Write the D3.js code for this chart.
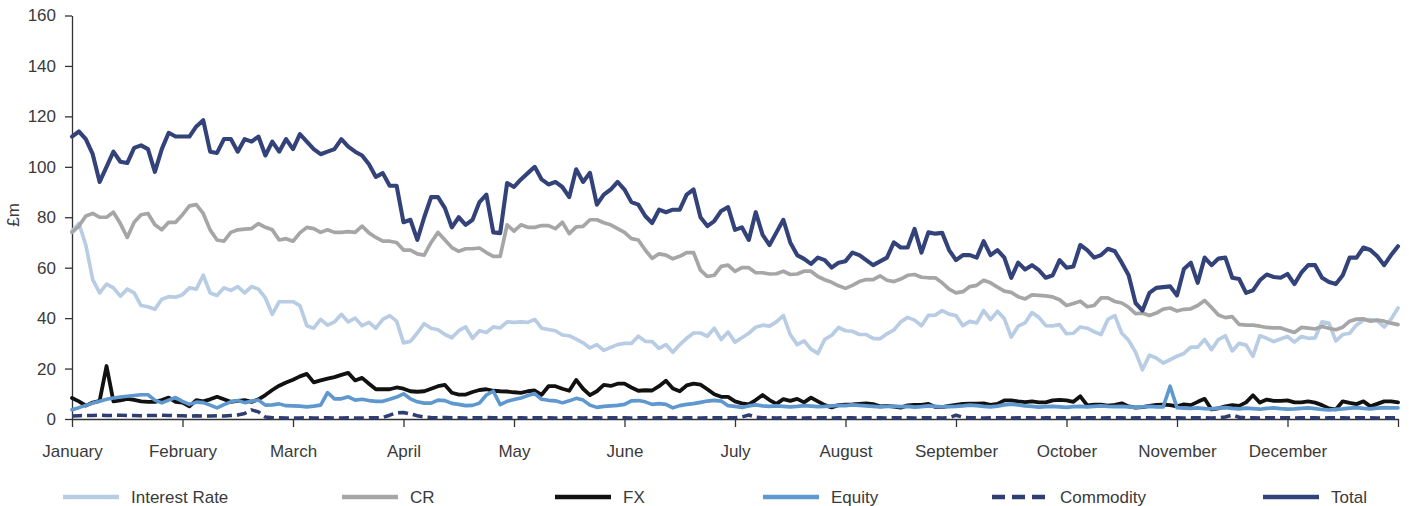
<!DOCTYPE html>
<html><head><meta charset="utf-8">
<script src="https://cdn.jsdelivr.net/npm/d3@7"></script>
<style>
html,body{margin:0;padding:0;background:#fff;}
svg{display:block;font-family:"Liberation Sans",Arial,Helvetica,sans-serif;}
</style></head><body>
<svg id="chart" width="1409" height="506"></svg>
<script>
// ---- data (16 readings per month, Jan..Dec, plus year-end) ----
const months = ["January","February","March","April","May","June","July","August","September","October","November","December"];
const pointsPerMonth = 16;
const yTicks = [0,20,40,60,80,100,120,140,160];
const yLabel = "£m";

const interestRate = [
74.5,77.5,69,55.3,50,53.5,52,48.7,51.5,50,45,44.5,43.5,47.5,48.5,48.3,
49.3,52,51.5,57,50,49,52,51,52.5,50,52.5,51.5,48,41.5,46.5,46.5,
46.5,45,37,36,39.5,37.2,38.5,41.5,38.5,40,37,38.3,36,39.5,41,38.8,
30.2,30.8,34.1,37.8,36,35.4,33.5,32.2,35,36.5,32,35,34.3,36.5,36.1,38.5,
38.3,38.5,38.3,39.5,36,35.5,35,33.3,33,31.7,30.2,28.2,29.5,27.2,28.4,29.5,
30,30,32.8,30.8,30.7,28,29.5,26.5,29.5,32,34.1,34.1,32.8,36,31.5,34.5,
30.5,32.2,34,36.4,37.2,36.8,38.5,41,33.5,29.5,31,27.7,26,31.6,33.2,36.3,
35,34.8,33.5,33.5,32,31.8,33.8,35.3,38.5,40.3,39.2,37,41.1,41.2,43,41.6,
41,37,38.7,38.1,43,39.4,42.7,39.8,32.5,36.8,38.1,42.2,40.3,37,36.9,37.4,
33.8,34,36.5,36,34.6,33.5,39.5,41,34,31.2,26.5,19.5,25.3,24.2,22.2,23.5,
24.9,26,28.5,28.5,31.5,27.5,31.5,33,27,30,29.3,24.9,33,32,30.7,31.7,
32.7,30.5,32.7,32,32.2,38.5,38,31,33.5,34,37.3,39.2,39.4,39,36.5,39.6,
44];

const cr = [
74,76.5,80.5,81.5,80,80,82,77.5,72,78,81,81.5,77,75,78,78,
81,84.5,85,81.5,75,71,70.5,74,75,75.3,75.5,77.5,76,75,71,71.5,
70.5,73.8,76,75.5,74,75,74,74,74.3,74,76.5,73.8,72,70.5,70.5,70,
67,67,65.5,65,70,74,71,68,66.5,67.5,67.5,67.8,66,64.5,64.5,77,
74.5,77,76,76,76.7,76.7,75.5,78,73.5,76.2,76.4,79,79,77.8,77,75.5,
74,71.5,71,67,63.7,65.5,65,63.5,64.5,66,66,59,56.5,57,60.5,61,
58.5,60,60,58,58,57.5,57.6,58.6,57.3,57.5,58.6,58.6,56.5,55.2,54.2,52.8,
51.8,53,54.5,55.3,55.3,56.8,55,54.5,55.5,57,57.3,56.2,56,56,54,51.5,
50,50.5,52.5,53,55,54,52.3,50.7,50.2,48.5,47.6,49.2,49,48.8,48.4,47.3,
45,45.8,46.7,44.5,45,48,48,46.6,46,44.3,41.8,42,41,42,43.6,44,
42.8,43.5,43.7,45,47,44.2,41.2,40.2,40.6,37.5,37.2,37.2,36.8,36.3,36.1,36.1,
35.2,34.3,36.3,36,35.7,36.7,36,35.4,36.4,38.8,39.6,39.7,38.8,39.2,38.8,38,
37.4];

const fx = [
8.3,7,5.3,6.5,7.2,21,7,7.4,8,7.6,7,6.8,6.8,7.5,8.5,6.8,
6.5,5,7.5,7,7.8,8.8,7.8,6.8,7.2,7.5,6.8,7.8,9.5,11.5,13.2,14.5,
15.6,16.9,17.9,14.5,15.3,16,16.6,17.5,18.3,15.3,16.3,14,11.8,11.8,11.8,12.5,
12,11,10.8,11,12,13,13.5,10.4,9.7,9.7,10.7,11.5,11.8,11.2,11,10.9,
10.6,10.4,11,11.3,9.6,13,13,12,11.2,15.5,12,9.5,11,13.5,13.1,14,
14,12.5,11.2,11.4,11.3,13,15.2,12.1,11,13.3,14,13.6,11.8,9.8,8.8,8.8,
7,6.2,5.8,7.5,9.5,7.5,6,7.9,7.2,8,6.6,8.5,7,5.5,4.6,5.5,
5.7,5.8,6,6.2,5.9,5,5.2,4.9,4.5,5.4,5.6,5.6,6,4.8,4.7,5.2,
5.6,6,6.1,6.1,6.2,5.6,6,7.4,7.4,7,6.7,7,6.6,6.6,7.4,7.6,
7.4,6.8,9,5.4,5.7,5.7,5.3,5.6,6.2,5,4.5,4.7,5.2,5.6,5.7,5.5,
5,5.8,5.5,6.8,8,3.8,4.2,5,5.5,5.2,6.6,9.4,6.5,7.7,7.2,7.2,
7.4,6.6,6.6,7,6.5,5.5,4.2,3.8,7,6.4,5.9,7,5,6,7,7,
6.6];

const equity = [
3.7,4.5,5.4,6.3,7,7.8,8.3,8.7,9,9.3,9.6,9.6,7.5,6.4,7.5,8.5,
7,5.8,6.7,6.5,5.5,4.4,5.7,6.8,7.3,6.5,7,7.5,5.5,5.6,6,5.3,
5.2,5.1,4.8,5.1,5.5,10.5,8,8,8.8,7.5,7.8,7.3,7,7,7.8,8.7,
10,8,6.8,6.3,6.3,7.5,7.3,6.2,5.8,5.3,5.4,6.3,9.5,11,5.7,7,
7.7,8.3,9.3,10.1,7.8,7.4,7.2,6.4,7.2,8.2,7.5,5.5,4.6,5,5.2,5.4,
5.8,7.2,7.3,6.8,5.8,6.1,5.8,4.4,5.3,5.8,6.1,6.6,7.1,7.4,7.1,5.3,
5,4.6,5.2,5.6,5.2,5,5.2,5,4.8,5,5.3,5.1,4.9,5,5.2,5.4,
5.3,5.6,5.4,5.2,5,4.8,5,5.1,4.9,5,4.7,4.9,5.2,5,4.8,4.9,
5,5.2,5.5,5.3,5,4.8,5.1,5.6,5.9,5.6,5.2,5,4.7,4.9,5,4.8,
4.6,4.9,5,4.8,5,5.2,5,4.9,5,4.8,4.6,4.8,5,4.8,4.8,13,
4.5,4.3,4.2,4.4,4.1,4,4.3,4.5,4.2,4,4.3,4.1,3.9,4.2,4.4,4.1,
3.9,4,4.2,4.4,4.1,3.8,3.6,3.8,4,4.3,4.5,4.2,4,4.3,4.5,4.4,
4.4];

const commodity = [
1.2,1.3,1.4,1.4,1.5,1.4,1.4,1.5,1.4,1.4,1.3,1.4,1.4,1.5,1.4,1.3,
1.3,1.2,1.3,1.2,1.2,1.3,1.2,1.4,1.6,2.2,3.6,2.8,0.8,0.5,0.5,0.4,
0.4,0.4,0.5,0.4,0.4,0.5,0.4,0.4,0.5,0.4,0.4,0.5,0.5,0.6,1.5,2.5,
2.6,2.0,1.3,0.8,0.6,0.5,0.6,0.5,0.5,0.4,0.5,0.5,0.6,0.5,0.5,0.5,
0.5,0.5,0.4,0.5,0.5,0.5,0.4,0.5,0.5,0.5,0.4,0.5,0.5,0.4,0.5,0.5,
0.5,0.4,0.5,0.5,0.4,0.5,0.5,0.5,0.4,0.5,0.5,0.4,0.5,0.5,0.5,0.5,
0.5,0.8,1.6,0.7,0.5,0.5,0.4,0.5,0.5,0.5,0.4,0.5,0.5,0.5,0.4,0.5,
0.5,0.5,0.4,0.5,0.5,0.5,0.4,0.5,0.5,0.5,0.4,0.5,0.5,0.5,0.4,0.5,
1.5,0.7,0.5,0.5,0.4,0.5,0.5,0.5,0.4,0.5,0.5,0.5,0.4,0.5,0.5,0.5,
0.5,0.4,0.5,0.5,0.5,0.4,0.5,0.5,0.5,0.4,0.5,0.5,0.5,0.4,0.5,0.5,
0.5,0.4,0.5,0.5,0.5,0.4,0.5,0.8,1.6,0.7,0.5,0.5,0.4,0.5,0.5,0.5,
0.5,0.4,0.5,0.5,0.5,0.4,0.5,0.5,0.5,0.4,0.5,0.5,0.5,0.4,0.5,0.5,
0.5];

const total = [
112,114,111,105,94,100,106,102,101.5,107.5,108.5,107,98,107,113.5,112,
112,112,116,118.5,106,105.5,111,111,106,111,110,112,104.5,110,106,111,
107,113,110,107,105,106,107,111,108,106,104.5,101,96,97.5,92.5,92.5,
78,79,71,80,88,88,83.6,76,80,77,79,86,89,74,73.7,93.6,
92,95,97.5,100,95,93,94,92,88,99,94,97.6,85,89,91,94,
91,86,85,80.5,77.7,83,82,83,83,89,91,80,76.5,78.5,82.5,84,
75,76,71,82,73,69,74,79,70,65,63.5,61.5,64,63,60,62,
62.6,66,65,63,61,62.5,64,70,68,68,75.4,66,74,73.5,73.8,67,
63,65,65,64,70.5,65,67,64,56,62,59.3,61,59,56,57,63,
60,60.5,69,67,64,65,67.5,66.5,62,57,46,43,50,52,52.3,52.6,
49,59.5,62,54,64,61,63.6,64,56,55.5,50,51,55,57.3,56.3,56,
57.5,53.5,58,61,61,56,54.3,53.5,57,64,64,68,67,64.5,61,65,
68.5];

const seriesNames = ["Interest Rate","CR","FX","Equity","Commodity","Total"];
const seriesValues = [interestRate, cr, fx, equity, commodity, total];

// ---- styling ----
const colors = ["#b8cce4","#a6a6a6","#111111","#5f97cf","#2f3d72","#33437a"];
const widths = [3.7,3.7,3.8,3.6,3.5,4.1];
const dashes = [null,null,null,null,"10,5",null];
const textColor = "#3a3a3a";
const axisColor = "#333";

const svg = d3.select("#chart");
const nPts = months.length * pointsPerMonth;
const x = d3.scaleLinear().domain([0, nPts]).range([72, 1398]);
const y = d3.scaleLinear().domain([0, 160]).range([419, 15.5]);

// y axis
const yAxis = svg.append("g").attr("transform","translate(72,0)")
  .call(d3.axisLeft(y).tickValues(yTicks).tickSize(7).tickSizeOuter(0).tickPadding(9));
// x axis
const xTickVals = d3.range(0, nPts + 1, pointsPerMonth);
const xAxis = svg.append("g").attr("transform","translate(0,419)")
  .call(d3.axisBottom(x).tickValues(xTickVals).tickSize(8).tickSizeOuter(0).tickPadding(18)
    .tickFormat((d,i)=> months[i] || ""));
[yAxis,xAxis].forEach(g=>{
  g.selectAll("path.domain").attr("stroke",axisColor).attr("stroke-width",1.3);
  g.selectAll(".tick line").attr("stroke",axisColor).attr("stroke-width",1.3);
  g.selectAll(".tick text").attr("fill",textColor).style("font-size","17px")
    .style("font-family","'Liberation Sans',Arial,sans-serif");
});

// y label
svg.append("text").attr("transform","translate(19,215) rotate(-90)")
  .attr("text-anchor","middle").attr("fill",textColor).style("font-size","17px").text(yLabel);

// lines
const line = d3.line().x((d,i)=>x(i)).y(d=>y(d)).curve(d3.curveLinear);
seriesValues.forEach((vals,k)=>{
  svg.append("path").datum(vals)
    .attr("d", line)
    .attr("fill","none")
    .attr("stroke", colors[k])
    .attr("stroke-width", widths[k])
    .attr("stroke-linejoin","round")
    .attr("stroke-linecap", dashes[k] ? "butt" : "round")
    .attr("stroke-dasharray", dashes[k]);
});

// legend
const legendX = [63, 342, 555, 763, 992, 1263];
const lg = svg.append("g");
seriesNames.forEach((name,k)=>{
  lg.append("line").attr("x1",legendX[k]).attr("x2",legendX[k]+56)
    .attr("y1",497).attr("y2",497)
    .attr("stroke",colors[k]).attr("stroke-width",4.5)
    .attr("stroke-dasharray", dashes[k] ? "13,7" : null);
  lg.append("text").attr("x",legendX[k]+68).attr("y",502.5)
    .attr("fill",textColor).style("font-size","17px").text(name);
});
</script>
</body></html>
